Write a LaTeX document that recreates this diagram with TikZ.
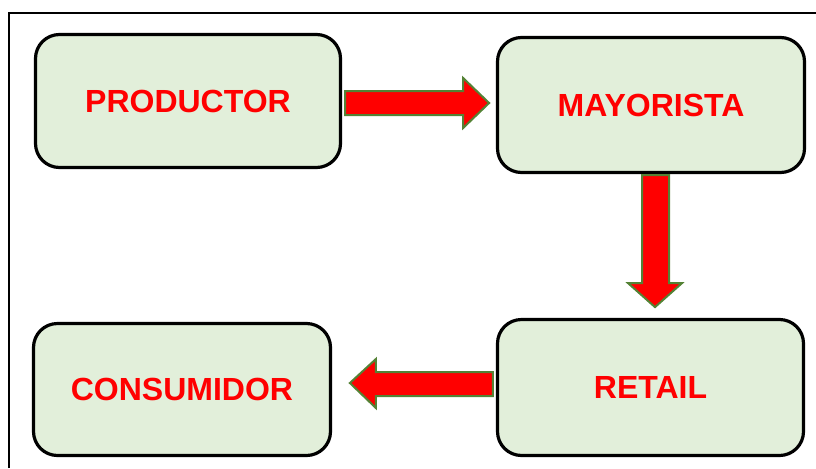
\documentclass[tikz,border=0pt]{standalone}
\usepackage{fontspec}
\setmainfont{Liberation Sans}
\usepackage{tikz}
\usetikzlibrary{calc}
\definecolor{cajaback}{RGB}{226,239,218}
\definecolor{flechaborde}{RGB}{84,130,53}
\definecolor{rojo}{RGB}{255,0,0}
\tikzset{
  caja/.style={draw=black,line width=2.4pt,fill=cajaback,rounded corners=18pt,
    text=rojo,font=\fontsize{24}{28}\selectfont\bfseries},
  flecha/.style={draw=flechaborde,line width=1.5pt,fill=rojo,line join=miter}
}

\begin{document}
\begin{tikzpicture}[x=0.75pt,y=-0.75pt]
\useasboundingbox (0,0) rectangle (816,468);
\draw[line width=1pt] (9,468) -- (9,13) -- (816,13);

\node [caja,minimum width=228.75pt,minimum height=99.75pt] (productor) at (188,101) {PRODUCTOR};
\node [caja,minimum width=230.25pt,minimum height=101.25pt] (mayorista) at (651,105) {MAYORISTA};
\node [caja,minimum width=222.75pt,minimum height=99pt] (consumidor) at (182,389.5) {CONSUMIDOR};
\node [caja,minimum width=229.5pt,minimum height=102pt] (retail) at (650.5,387.5) {RETAIL};

\draw[flecha] ($(productor.east)+(3,-10)$) -- ++(118,0) -- ++(0,-13) -- ++(26,25)
  -- ++(-26,25) -- ++(0,-13) -- ++(-118,0) -- cycle;
\draw[flecha] ($(mayorista.south)+(-9,1)$) -- ++(0,108) -- ++(-14,0) -- ++(27,24)
  -- ++(27,-24) -- ++(-13,0) -- ++(0,-108) -- cycle;
\draw[flecha] ($(retail.west)+(-3,-15.5)$) -- ++(-117,0) -- ++(0,-13) -- ++(-26,24)
  -- ++(26,25) -- ++(0,-12) -- ++(117,0) -- cycle;
\end{tikzpicture}
\end{document}
